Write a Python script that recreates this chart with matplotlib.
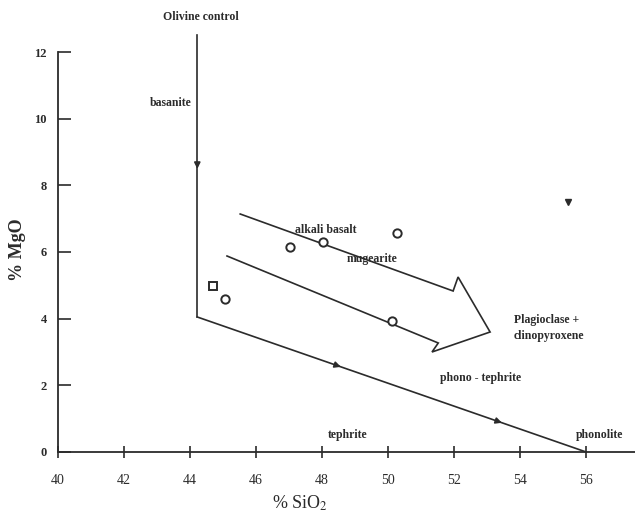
import matplotlib
matplotlib.use("Agg")
import matplotlib.pyplot as plt
import numpy as np

# ---- data ----
# sample points (SiO2, MgO)
circ_sio2 = [45.06, 47.03, 48.03, 50.27, 50.12]
circ_mgo = [4.59, 6.15, 6.30, 6.57, 3.93]
sq_sio2 = [44.70]
sq_mgo = [4.98]
dot_sio2 = [55.45]
dot_mgo = [7.50]

# olivine control vertical line and lower boundary to phonolite
olivine_x = [44.22, 44.22]
olivine_y = [12.5, 4.05]
olivine_arrow_y = 8.46
boundary_x = [44.22, 56.0]
boundary_y = [4.05, 0.0]
boundary_arrow_x = [48.6, 53.48]

# plagioclase + clinopyroxene big arrow outline
arrow_x = [45.52, 51.97, 52.12, 53.09, 51.33, 51.52, 45.12]
arrow_y = [7.14, 4.83, 5.25, 3.60, 3.00, 3.27, 5.88]

labels = ["Olivine control", "basanite", "alkali basalt", "mugearite",
          "Plagioclase +\nclinopyroxene", "phono - tephrite", "tephrite", "phonolite"]
label_x = [44.33, 43.4, 48.1, 49.5, 53.8, 52.8, 48.76, 56.4]
label_y = [13.05, 10.47, 6.66, 5.79, 3.72, 2.22, 0.51, 0.51]
label_ha = ["center", "center", "center", "center", "left", "center", "center", "center"]

xticks = [40, 42, 44, 46, 48, 50, 52, 54, 56]
yticks = [0, 2, 4, 6, 8, 10, 12]

# ---- plot ----
plt.rcParams['font.family'] = ['Liberation Serif', 'DejaVu Serif']
plt.rcParams['mathtext.fontset'] = 'stix'
ink = '#2b2b2b'

fig = plt.figure(figsize=(6.35, 5.13), dpi=100)
ax = fig.add_axes([58/635, 61/513, 577/635, 400/513])
ax.set_xlim(40, 57.48)
ax.set_ylim(0, 12)

for s in ['top', 'right']:
    ax.spines[s].set_visible(False)
for s in ['left', 'bottom']:
    ax.spines[s].set_color(ink)
    ax.spines[s].set_linewidth(1.3)

ax.set_xticks(xticks)
ax.set_yticks(yticks)
ax.tick_params(axis='y', direction='in', length=9, width=1.2, color=ink,
               labelsize=9, pad=8, labelcolor=ink)
ax.tick_params(axis='x', direction='inout', length=9, width=1.2, color=ink,
               labelsize=10, pad=11, labelcolor=ink)
for t in ax.get_yticklabels():
    t.set_fontweight('bold')

lw = 1.2
ax.plot(olivine_x, olivine_y, color=ink, lw=lw, clip_on=False)
ax.plot(boundary_x, boundary_y, color=ink, lw=lw, clip_on=False)
ax.annotate('', xy=(olivine_x[0], olivine_arrow_y - 0.05),
            xytext=(olivine_x[0], olivine_arrow_y + 0.3),
            arrowprops=dict(arrowstyle='-|>', color=ink, lw=lw, mutation_scale=9))

slope = (boundary_y[1] - boundary_y[0]) / (boundary_x[1] - boundary_x[0])
for bx in boundary_arrow_x:
    by = boundary_y[0] + slope * (bx - boundary_x[0])
    ax.annotate('', xy=(bx + 0.05, by + slope * 0.05),
                xytext=(bx - 0.3, by - slope * 0.3),
                arrowprops=dict(arrowstyle='-|>', color=ink, lw=lw, mutation_scale=9))

ax.plot(arrow_x, arrow_y, color=ink, lw=lw, solid_joinstyle='miter')

ax.plot(circ_sio2, circ_mgo, 'o', ms=6, mfc='white', mec=ink, mew=1.4)
ax.plot(sq_sio2, sq_mgo, 's', ms=5.5, mfc='white', mec=ink, mew=1.4)
ax.plot(dot_sio2, dot_mgo, 'v', ms=4, color=ink)

for t, x, y, ha in zip(labels, label_x, label_y, label_ha):
    ax.text(x, y, t, ha=ha, va='center', fontsize=8.5, color=ink,
            fontweight='bold', clip_on=False, linespacing=1.5)

fig.text(18/635, 1 - 250/513, '% MgO', rotation=90, ha='center', va='center',
         fontsize=13, fontweight='bold', color=ink)
fig.text(300/635, 1 - 503/513, '% SiO$_2$', ha='center', va='center',
         fontsize=13, color=ink)

fig.savefig('out.png', dpi=100)
